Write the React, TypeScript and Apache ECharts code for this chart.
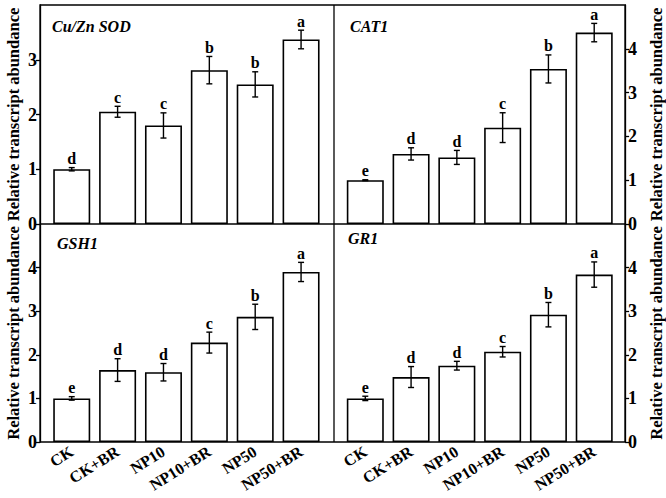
import React, { useEffect, useRef } from "react";
import * as echarts from "echarts";

const categories = ["CK", "CK+BR", "NP10", "NP10+BR", "NP50", "NP50+BR"];

const sodMean = [1.0, 2.05, 1.8, 2.81, 2.55, 3.37];
const sodErr = [0.03, 0.1, 0.23, 0.25, 0.23, 0.17];
const sodLetters = ["d", "c", "c", "b", "b", "a"];

const cat1Mean = [1.0, 1.6, 1.52, 2.2, 3.54, 4.37];
const cat1Err = [0.01, 0.14, 0.16, 0.34, 0.32, 0.21];
const cat1Letters = ["e", "d", "d", "c", "b", "a"];

const gshMean = [1.0, 1.65, 1.6, 2.28, 2.87, 3.9];
const gshErr = [0.04, 0.26, 0.2, 0.24, 0.29, 0.22];
const gshLetters = ["e", "d", "d", "c", "b", "a"];

const grMean = [1.0, 1.49, 1.75, 2.07, 2.92, 3.84];
const grErr = [0.05, 0.24, 0.1, 0.12, 0.28, 0.29];
const grLetters = ["e", "d", "d", "c", "b", "a"];

const titles = ["Cu/Zn SOD", "CAT1", "GSH1", "GR1"];
const yMax = [4, 5, 5, 5];
const yTickValues = [
  [0, 1, 2, 3],
  [0, 1, 2, 3, 4],
  [0, 1, 2, 3, 4],
  [0, 1, 2, 3, 4],
];
const yTitle = "Relative transcript abundance";

const FONT = "'Liberation Serif', 'Times New Roman', serif";

export default function App() {
  const ref = useRef<HTMLDivElement>(null);

  useEffect(() => {
    if (!ref.current) return;
    const chart = echarts.init(ref.current, null, { renderer: "svg" });

    const panels = [
      { mean: sodMean, err: sodErr, letters: sodLetters, left: 48.8, top: 5, width: 275.2, height: 219, side: "left", offset: 8.8, labels: false, tx: 52, ty: 28 },
      { mean: cat1Mean, err: cat1Err, letters: cat1Letters, left: 342.4, top: 5, width: 274.7, height: 219, side: "right", offset: 8, labels: false, tx: 350, ty: 28 },
      { mean: gshMean, err: gshErr, letters: gshLetters, left: 48.8, top: 224, width: 275.2, height: 218, side: "left", offset: 8.8, labels: true, tx: 57, ty: 245 },
      { mean: grMean, err: grErr, letters: grLetters, left: 342.4, top: 224, width: 274.7, height: 218, side: "right", offset: 8, labels: true, tx: 348, ty: 240 },
    ];

    const grid: any[] = [];
    const xAxis: any[] = [];
    const yAxis: any[] = [];
    const series: any[] = [];
    const graphic: any[] = [];

    panels.forEach((p, i) => {
      grid.push({ left: p.left, top: p.top, width: p.width, height: p.height, outerBoundsMode: "none", containLabel: false });
      xAxis.push({
        type: "category",
        gridIndex: i,
        data: categories,
        axisLine: { show: false },
        axisTick: { show: false },
        axisLabel: {
          show: p.labels,
          rotate: 32,
          margin: 8,
          interval: 0,
          hideOverlap: false,
          color: "#000",
          fontFamily: FONT,
          fontWeight: "bold",
          fontSize: 16,
        },
      });
      yAxis.push({
        type: "value",
        gridIndex: i,
        position: p.side,
        offset: p.offset,
        min: 0,
        max: yMax[i],
        interval: 1,
        splitLine: { show: false },
        axisLine: { show: true, lineStyle: { color: "#000", width: 1.3 } },
        axisTick: { show: true, inside: false, length: 4, customValues: yTickValues[i], lineStyle: { color: "#000", width: 1.3 } },
        axisLabel: {
          customValues: yTickValues[i],
          margin: 3,
          color: "#000",
          fontFamily: FONT,
          fontWeight: "bold",
          fontSize: 18,
        },
      });
      series.push({
        type: "bar",
        xAxisIndex: i,
        yAxisIndex: i,
        data: p.mean,
        barWidth: 37,
        itemStyle: { color: "#fff", borderColor: "#000", borderWidth: 1.6 },
        silent: true,
      });
      const errData = p.mean.map((m, k) => [k, m, p.err[k]]);
      const letters = p.letters;
      series.push({
        type: "custom",
        xAxisIndex: i,
        yAxisIndex: i,
        data: errData,
        encode: { x: 0, y: 1 },
        silent: true,
        z: 5,
        renderItem: (params: any, api: any) => {
          const x = api.value(0);
          const m = api.value(1);
          const e = api.value(2);
          const top = api.coord([x, m + e]);
          const bot = api.coord([x, m - e]);
          const cap = 3;
          const ls = { stroke: "#000", lineWidth: 1.4 };
          return {
            type: "group",
            children: [
              { type: "line", shape: { x1: top[0], y1: top[1], x2: bot[0], y2: bot[1] }, style: ls },
              { type: "line", shape: { x1: top[0] - cap, y1: top[1], x2: top[0] + cap, y2: top[1] }, style: ls },
              { type: "line", shape: { x1: bot[0] - cap, y1: bot[1], x2: bot[0] + cap, y2: bot[1] }, style: ls },
              {
                type: "text",
                x: top[0],
                y: top[1] - 1,
                style: {
                  text: letters[params.dataIndex],
                  textAlign: "center",
                  textVerticalAlign: "bottom",
                  fill: "#000",
                  font: `bold 16px ${FONT}`,
                },
              },
            ],
          };
        },
      });
      graphic.push({
        type: "text",
        left: p.tx,
        top: p.ty - 10,
        style: {
          text: titles[i],
          fill: "#000",
          font: `italic bold 16px ${FONT}`,
        },
      });
    });

    // frame
    graphic.push({ type: "rect", shape: { x: 40, y: 5, width: 585, height: 437 }, style: { fill: "none", stroke: "#000", lineWidth: 1.3 }, z: 10 });
    graphic.push({ type: "line", shape: { x1: 334, y1: 5, x2: 334, y2: 442 }, style: { stroke: "#000", lineWidth: 1.3 }, z: 10 });
    graphic.push({ type: "line", shape: { x1: 40, y1: 224, x2: 625, y2: 224 }, style: { stroke: "#000", lineWidth: 1.3 }, z: 10 });

    // rotated y titles
    const titlePos = [
      [13, 114.5],
      [656, 114.5],
      [13, 333],
      [656, 333],
    ];
    titlePos.forEach(([x, y]) => {
      graphic.push({
        type: "text",
        x,
        y,
        rotation: Math.PI / 2,
        style: {
          text: yTitle,
          fill: "#000",
          font: `bold 16.5px ${FONT}`,
          textAlign: "center",
          textVerticalAlign: "middle",
        },
      });
    });

    chart.setOption({
      animation: false,
      backgroundColor: "#fff",
      grid,
      xAxis,
      yAxis,
      series,
      graphic,
    });

    return () => chart.dispose();
  }, []);

  return (
    <div
      ref={ref}
      style={{ position: "fixed", left: 0, top: 0, width: 666, height: 498 }}
    />
  );
}
